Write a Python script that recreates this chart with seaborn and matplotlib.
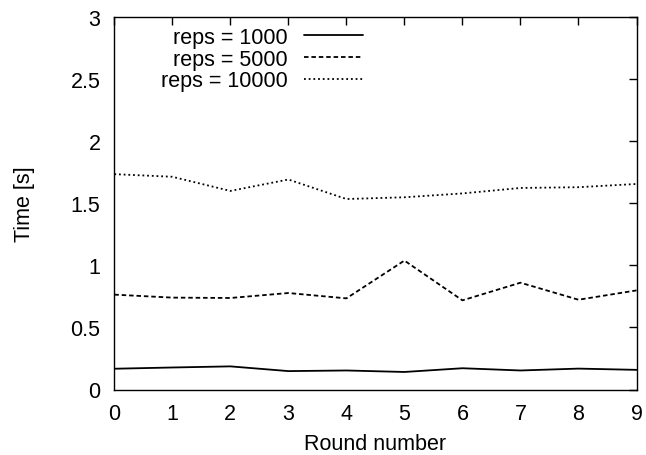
import numpy as np
import pandas as pd
import seaborn as sns
import matplotlib
matplotlib.use("Agg")
import matplotlib.pyplot as plt

rounds = [0, 1, 2, 3, 4, 5, 6, 7, 8, 9]
reps_1000 = [0.167, 0.177, 0.186, 0.148, 0.153, 0.141, 0.171, 0.153, 0.168, 0.158]
reps_5000 = [0.763, 0.739, 0.736, 0.776, 0.733, 1.037, 0.717, 0.859, 0.722, 0.797]
reps_10000 = [1.732, 1.711, 1.597, 1.689, 1.532, 1.546, 1.577, 1.621, 1.627, 1.653]
series_labels = ["reps = 1000", "reps = 5000", "reps = 10000"]
y_ticks = [0, 0.5, 1, 1.5, 2, 2.5, 3]
y_tick_labels = ["0", "0.5", "1", "1.5", "2", "2.5", "3"]

df = pd.DataFrame({
    "round": rounds * 3,
    "time": reps_1000 + reps_5000 + reps_10000,
    "series": [series_labels[0]] * 10 + [series_labels[1]] * 10 + [series_labels[2]] * 10,
})

sns.set_theme(style="white")
plt.rcParams['font.family'] = ['Liberation Sans', 'DejaVu Sans']
plt.rcParams.update({"text.color": "black", "axes.labelcolor": "black",
                     "xtick.color": "black", "ytick.color": "black"})
FS = 15.5

W, H = 646, 456
fig = plt.figure(figsize=(W / 100, H / 100), dpi=100)
L, R, T, B = 114.3, 636.5, 17.5, 390.5
ax = fig.add_axes([L / W, 1 - B / H, (R - L) / W, (B - T) / H])

sns.lineplot(data=df, x="round", y="time", style="series", hue="series",
             palette=["black"] * 3,
             dashes={series_labels[0]: "", series_labels[1]: (2.5, 1.6), series_labels[2]: (1, 1.6)},
             linewidth=1.3, ax=ax, legend=True)

ax.set_xlim(0, 9)
ax.set_ylim(0, 3)
ax.set_xticks(rounds)
ax.set_yticks(y_ticks)
ax.set_yticklabels(y_tick_labels)
ax.tick_params(direction="in", length=6, width=1, top=True, right=True,
               labelsize=FS, colors="black")
ax.tick_params(axis="x", pad=10, labelbottom=True, labeltop=False)
ax.tick_params(axis="y", pad=10, labelleft=True, labelright=False)
for s in ax.spines.values():
    s.set_color("black")
    s.set_linewidth(1)
ax.set_xlabel("Round number", fontsize=FS, color="black")
ax.set_ylabel("Time [s]", fontsize=FS, color="black")
ax.xaxis.set_label_coords(0.5, (B - 434.5) / (B - T))
ax.yaxis.set_label_coords((35 - L) / (R - L), 0.5)

leg = ax.legend(loc="upper right", bbox_to_anchor=((363 - L) / (R - L), (B - 28) / (B - T)),
                frameon=False, markerfirst=False, fontsize=FS, handlelength=2.75,
                labelspacing=0.03, borderaxespad=0, borderpad=0, handletextpad=0.75)
for t in leg.get_texts():
    t.set_color("black")

fig.savefig("out.png", dpi=100)
